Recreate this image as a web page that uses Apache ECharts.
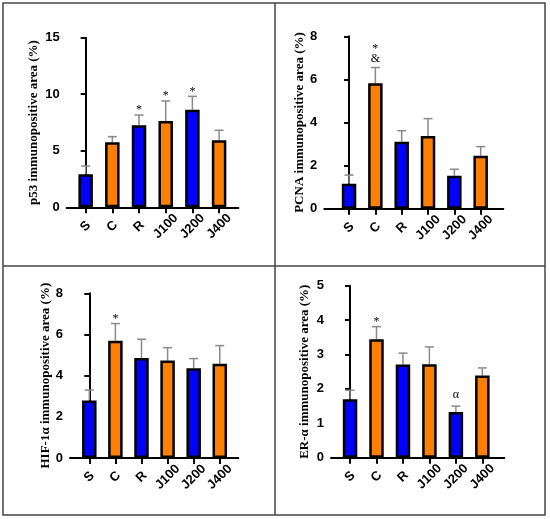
<!DOCTYPE html>
<html>
<head>
<meta charset="utf-8">
<script src="https://cdn.jsdelivr.net/npm/echarts@6/dist/echarts.min.js"></script>
</head>
<body style="margin:0;background:#fff">
<div id="main" style="width:550px;height:519px;"></div>
<script type="text/javascript">
// groups on the x axis
var groups = ['S', 'C', 'R', 'J100', 'J200', 'J400'];

// p53
var p53Mean = [2.92, 5.75, 7.25, 7.63, 8.63, 5.92];
var p53Sd = [0.73, 0.50, 0.91, 1.77, 1.18, 0.89];
var p53Marks = ['', '', '*', '*', '*', ''];
var p53Ticks = [0, 15, 5];

// PCNA
var pcnaMean = [1.16, 5.82, 3.11, 3.37, 1.53, 2.46];
var pcnaSd = [0.40, 0.73, 0.51, 0.81, 0.30, 0.42];
var pcnaMarks = ['', '*\n&', '', '', '', ''];
var pcnaTicks = [0, 8, 2];

// HIF-1a
var hifMean = [2.79, 5.70, 4.86, 4.73, 4.36, 4.58];
var hifSd = [0.51, 0.83, 0.91, 0.63, 0.47, 0.88];
var hifMarks = ['', '*', '', '', '', ''];
var hifTicks = [0, 8, 2];

// ER-a
var erMean = [1.70, 3.44, 2.71, 2.72, 1.33, 2.39];
var erSd = [0.26, 0.37, 0.33, 0.50, 0.17, 0.22];
var erMarks = ['', '*', '', '', 'α', ''];
var erTicks = [0, 5, 1];

var names = [
  'p53 immunopositive area (%)',
  'PCNA immunopositive area (%)',
  'HIF-1α immunopositive area (%)',
  'ER-α immunopositive area (%)'
];

var barColors = ['#0000ff', '#ff8000', '#0000ff', '#ff8000', '#0000ff', '#ff8000'];

// 4 panels, layout in pixels
var panels = [
  {mean: p53Mean, sd: p53Sd, marks: p53Marks, ticks: p53Ticks, left: 66.7, top: 37.7, width: 171.6, height: 169.6, xmin: -0.71, xmax: 5.72, gap: 27},
  {mean: pcnaMean, sd: pcnaSd, marks: pcnaMarks, ticks: pcnaTicks, left: 324.3, top: 36.3, width: 179, height: 172.4, xmin: -0.94, xmax: 5.86, gap: 14},
  {mean: hifMean, sd: hifSd, marks: hifMarks, ticks: hifTicks, left: 70, top: 293.3, width: 168.3, height: 164.7, xmin: -0.74, xmax: 5.71, gap: 17},
  {mean: erMean, sd: erSd, marks: erMarks, ticks: erTicks, left: 331, top: 285.7, width: 173.3, height: 172, xmin: -0.72, xmax: 5.83, gap: 19.5}
];

var sansBold = {fontFamily: 'Liberation Sans', fontWeight: 'bold', fontSize: 13, color: '#000'};
var idx = [0, 1, 2, 3, 4, 5];

var grid = [], xAxis = [], yAxis = [], series = [];

panels.forEach(function (p, k) {
  grid.push({left: p.left, top: p.top, width: p.width, height: p.height, containLabel: false});

  xAxis.push({
    type: 'value', gridIndex: k, min: p.xmin, max: p.xmax,
    splitLine: {show: false},
    axisLine: {show: true, lineStyle: {color: '#000', width: 2}},
    axisTick: {show: true, customValues: idx, length: 6, lineStyle: {color: '#000', width: 2}},
    axisLabel: Object.assign({
      customValues: idx, rotate: 45, margin: 19, align: 'center', verticalAlign: 'middle',
      formatter: function (v) { return groups[Math.round(v)]; }
    }, sansBold)
  });

  yAxis.push({
    type: 'value', gridIndex: k, min: p.ticks[0], max: p.ticks[1], interval: p.ticks[2],
    splitLine: {show: false},
    axisLine: {show: true, lineStyle: {color: '#000', width: 2}},
    axisTick: {show: true, length: 5, lineStyle: {color: '#000', width: 2}},
    axisLabel: Object.assign({margin: 7}, sansBold),
    name: names[k], nameLocation: 'middle', nameGap: p.gap,
    nameTextStyle: {fontFamily: 'Liberation Serif', fontWeight: 'bold', fontSize: 13, color: '#000'}
  });

  series.push({
    type: 'bar', xAxisIndex: k, yAxisIndex: k, barWidth: 14.5, z: 2,
    itemStyle: {borderColor: '#000', borderWidth: 2.5},
    data: p.mean.map(function (v, i) {
      return {value: [i, v], itemStyle: {color: barColors[i]}};
    })
  });

  // error bars (upper only) + significance marks
  series.push({
    type: 'custom', xAxisIndex: k, yAxisIndex: k, z: 1,
    data: p.mean.map(function (v, i) { return [i, v, p.sd[i]]; }),
    renderItem: function (params, api) {
      var i = api.value(0), m = api.value(1), s = api.value(2);
      var a = api.coord([i, m]);
      var b = api.coord([i, m + s]);
      var st = {stroke: '#8a8a8a', lineWidth: 1.5};
      var ch = [
        {type: 'line', shape: {x1: a[0], y1: a[1], x2: b[0], y2: b[1]}, style: st},
        {type: 'line', shape: {x1: b[0] - 4.5, y1: b[1], x2: b[0] + 4.5, y2: b[1]}, style: st}
      ];
      var mk = p.marks[params.dataIndex];
      if (mk) {
        var lines = mk.split('\n').reverse();
        var y = b[1];
        lines.forEach(function (t) {
          var off = t === '*' ? 1 : (t === '&' ? -2.5 : -5);
          ch.push({
            type: 'text', x: b[0], y: y + off,
            style: {text: t, fontFamily: 'Liberation Serif', fontSize: 12, fill: '#000',
              align: 'center', verticalAlign: 'bottom'}
          });
          y = y - 14;
        });
      }
      return {type: 'group', children: ch};
    }
  });
});

var chart = echarts.init(document.getElementById('main'));
chart.setOption({
  animation: false,
  backgroundColor: '#fff',
  grid: grid,
  xAxis: xAxis,
  yAxis: yAxis,
  series: series,
  graphic: [
    {type: 'rect', shape: {x: 3, y: 3, width: 542, height: 512}, style: {fill: null, stroke: '#444', lineWidth: 1.5}},
    {type: 'line', shape: {x1: 275, y1: 3, x2: 275, y2: 515}, style: {stroke: '#444', lineWidth: 1.5}},
    {type: 'line', shape: {x1: 3, y1: 266, x2: 545, y2: 266}, style: {stroke: '#444', lineWidth: 1.5}}
  ]
});
</script>
</body>
</html>
